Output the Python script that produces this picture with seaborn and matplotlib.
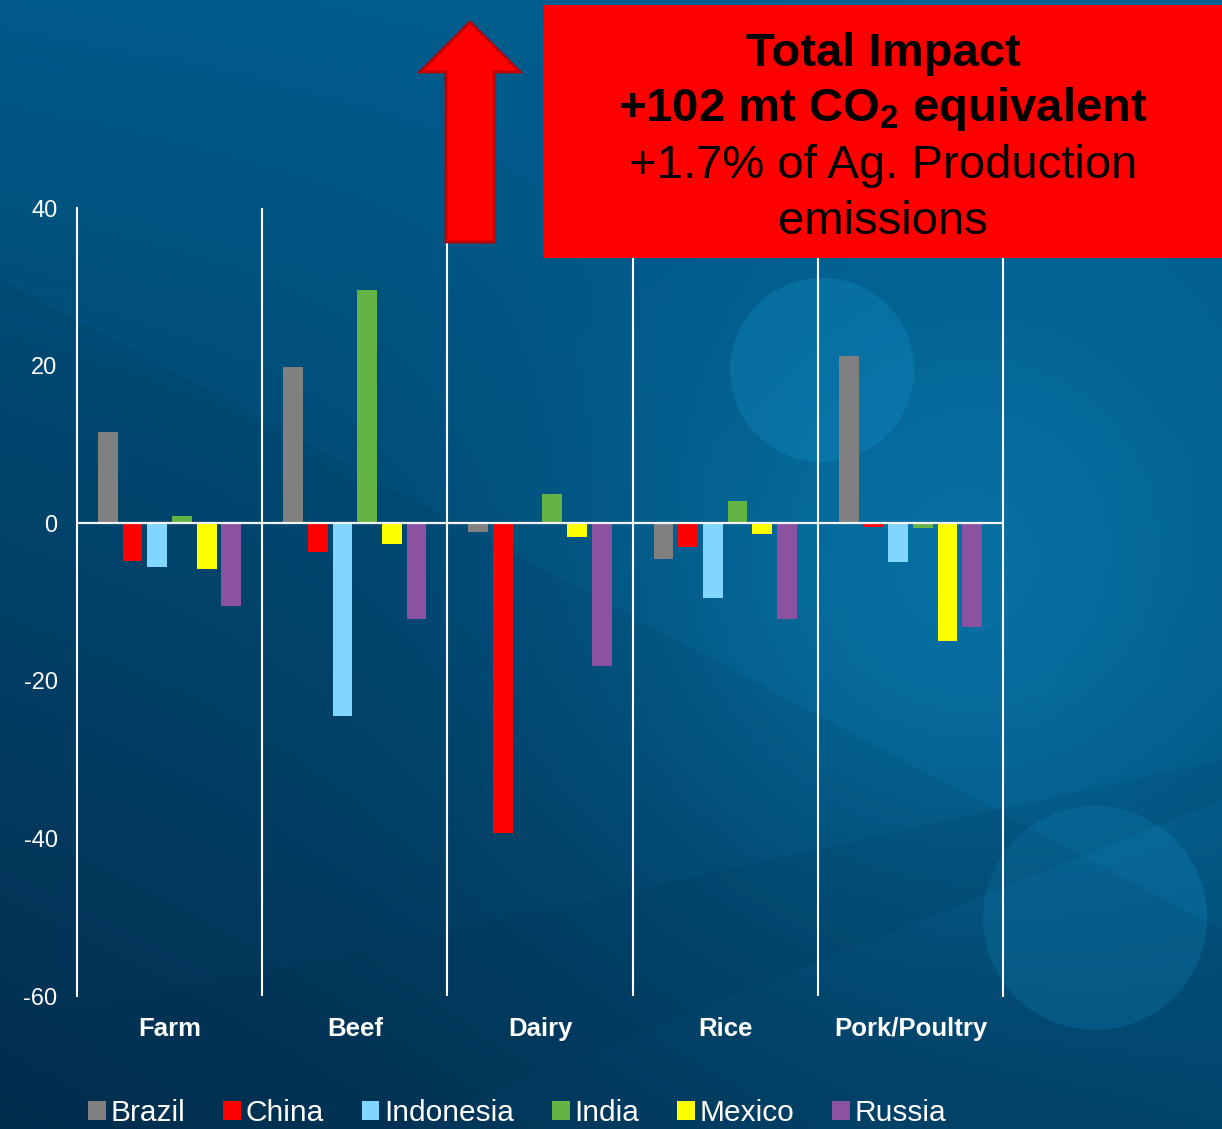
import matplotlib
matplotlib.use("Agg")
import matplotlib.pyplot as plt
import matplotlib.patches as mpatches
import seaborn as sns
import numpy as np
import pandas as pd

# data (mt CO2 equivalent)
categories = ["Farm", "Beef", "Dairy", "Rice", "Pork/Poultry"]
countries = ["Brazil", "China", "Indonesia", "India", "Mexico", "Russia"]
brazil = [11.6, 19.8, -1.1, -4.6, 21.2]
china = [-4.8, -3.6, -39.3, -3.0, -0.5]
indonesia = [-5.6, -24.5, 0.0, -9.5, -4.9]
india = [0.9, 29.6, 3.7, 2.8, -0.6]
mexico = [-5.8, -2.7, -1.8, -1.4, -15.0]
russia = [-10.5, -12.2, -18.1, -12.1, -13.2]
palette = ["#808080", "#ff0000", "#80d6ff", "#64b445", "#ffff00", "#8a52a0"]

y_ticks = [40, 20, 0, -20, -40, -60]

series = [brazil, china, indonesia, india, mexico, russia]
df = pd.DataFrame({
    "category": categories * len(countries),
    "country": [c for c in countries for _ in categories],
    "value": [v for s in series for v in s],
})

sns.set_theme(style="white")
plt.rcParams["font.family"] = ["Liberation Sans", "DejaVu Sans"]
plt.rcParams["axes.unicode_minus"] = False
plt.rcParams["mathtext.fontset"] = "custom"
plt.rcParams["mathtext.rm"] = "Liberation Sans"
plt.rcParams["mathtext.bf"] = "Liberation Sans:bold"

W, H = 1222, 1129
fig = plt.figure(figsize=(W / 100, H / 100), dpi=100)

# background gradient (slide theme)
bg = fig.add_axes([0, 0, 1, 1], zorder=-10)
yy, xx = np.mgrid[0:1:300j, 0:1:330j]
tl = np.array([0, 90, 138]) / 255
tr = np.array([0, 98, 148]) / 255
bl = np.array([4, 46, 78]) / 255
br = np.array([3, 72, 112]) / 255
img = ((1 - xx)[..., None] * (1 - yy)[..., None] * tl + xx[..., None] * (1 - yy)[..., None] * tr
       + (1 - xx)[..., None] * yy[..., None] * bl + xx[..., None] * yy[..., None] * br)
spot = np.exp(-(((xx - 0.78) / 0.28) ** 2 + ((yy - 0.52) / 0.3) ** 2))[..., None]
img = img * (1 - 0.6 * spot) + np.array([10, 132, 186]) / 255 * 0.6 * spot
bg.imshow(img, extent=[0, W, H, 0], aspect="auto")
bg.add_patch(mpatches.Circle((822, 370), 92, color="#1390c8", alpha=0.3, lw=0))
bg.add_patch(mpatches.Circle((1095, 918), 112, color="#1390c8", alpha=0.25, lw=0))
bg.add_patch(mpatches.Polygon([(0, 280), (0, 1129), (1222, 1129), (1222, 930)],
                              color="#002a48", alpha=0.1, lw=0))
bg.add_patch(mpatches.Polygon([(0, 1030), (0, 1129), (400, 1129), (1222, 800), (1222, 760)],
                              color="#002a48", alpha=0.1, lw=0))
bg.set_xlim(0, W)
bg.set_ylim(H, 0)
bg.axis("off")

ax = fig.add_axes([77 / W, 1 - 996 / H, (1003 - 77) / W, (996 - 208) / H])
ax.set_facecolor("none")
sns.barplot(data=df, x="category", y="value", hue="country", order=categories,
            hue_order=countries, palette=palette, saturation=1, width=0.8, gap=0.2,
            errorbar=None, linewidth=0, ax=ax)

ax.set_ylim(-60, 40)
ax.set_xlim(-0.5, 4.5)
ax.set_yticks(y_ticks)
ax.set_xlabel("")
ax.set_ylabel("")
ax.axhline(0, color="#f2f2f2", lw=1.6, zorder=3)
for xb in [0.5, 1.5, 2.5, 3.5]:
    ax.axvline(xb, color="white", lw=1.5, zorder=3)
for side in ["top", "bottom"]:
    ax.spines[side].set_visible(False)
for side in ["left", "right"]:
    ax.spines[side].set_color("white")
    ax.spines[side].set_linewidth(1.5)
ax.tick_params(axis="y", length=0, pad=14, labelsize=17, labelcolor="white")
ax.tick_params(axis="x", length=0, pad=15, labelsize=18.5, labelcolor="white")
for lab in ax.get_xticklabels():
    lab.set_fontweight("bold")

sns.move_legend(ax, "center", bbox_to_anchor=(517 / W, 1 - 1113 / H),
                bbox_transform=fig.transFigure, ncol=6, frameon=False, title=None,
                fontsize=21.5, labelcolor="white", handlelength=0.6, handleheight=0.6,
                handletextpad=0.15, columnspacing=1.27)

# red arrow
arrow = [(470, 22), (520, 72), (494, 72), (494, 242), (446, 242), (446, 72), (420, 72)]
fig.add_artist(mpatches.Polygon([(x / W, 1 - y / H) for x, y in arrow], closed=True,
                                facecolor="#ff0000", edgecolor="#c00000", lw=2,
                                transform=fig.transFigure, zorder=20))

# red callout box
fig.add_artist(mpatches.Rectangle((543 / W, 1 - 258 / H), (W - 543) / W, 253 / H,
                                  facecolor="#ff0000", edgecolor="none",
                                  transform=fig.transFigure, zorder=20))
cx = 883 / W
fig.text(cx, 1 - 66 / H, "Total Impact", ha="center", va="baseline", fontsize=34,
         fontweight="bold", color="black", zorder=21)
fig.text(cx, 1 - 121 / H, r"+102 mt CO$_\mathbf{2}$ equivalent", ha="center", va="baseline",
         fontsize=34, fontweight="bold", color="black", zorder=21)
fig.text(cx, 1 - 178 / H, "+1.7% of Ag. Production", ha="center", va="baseline",
         fontsize=34, color="black", zorder=21)
fig.text(cx, 1 - 234 / H, "emissions", ha="center", va="baseline", fontsize=34,
         color="black", zorder=21)

fig.savefig("out.png", dpi=100)
